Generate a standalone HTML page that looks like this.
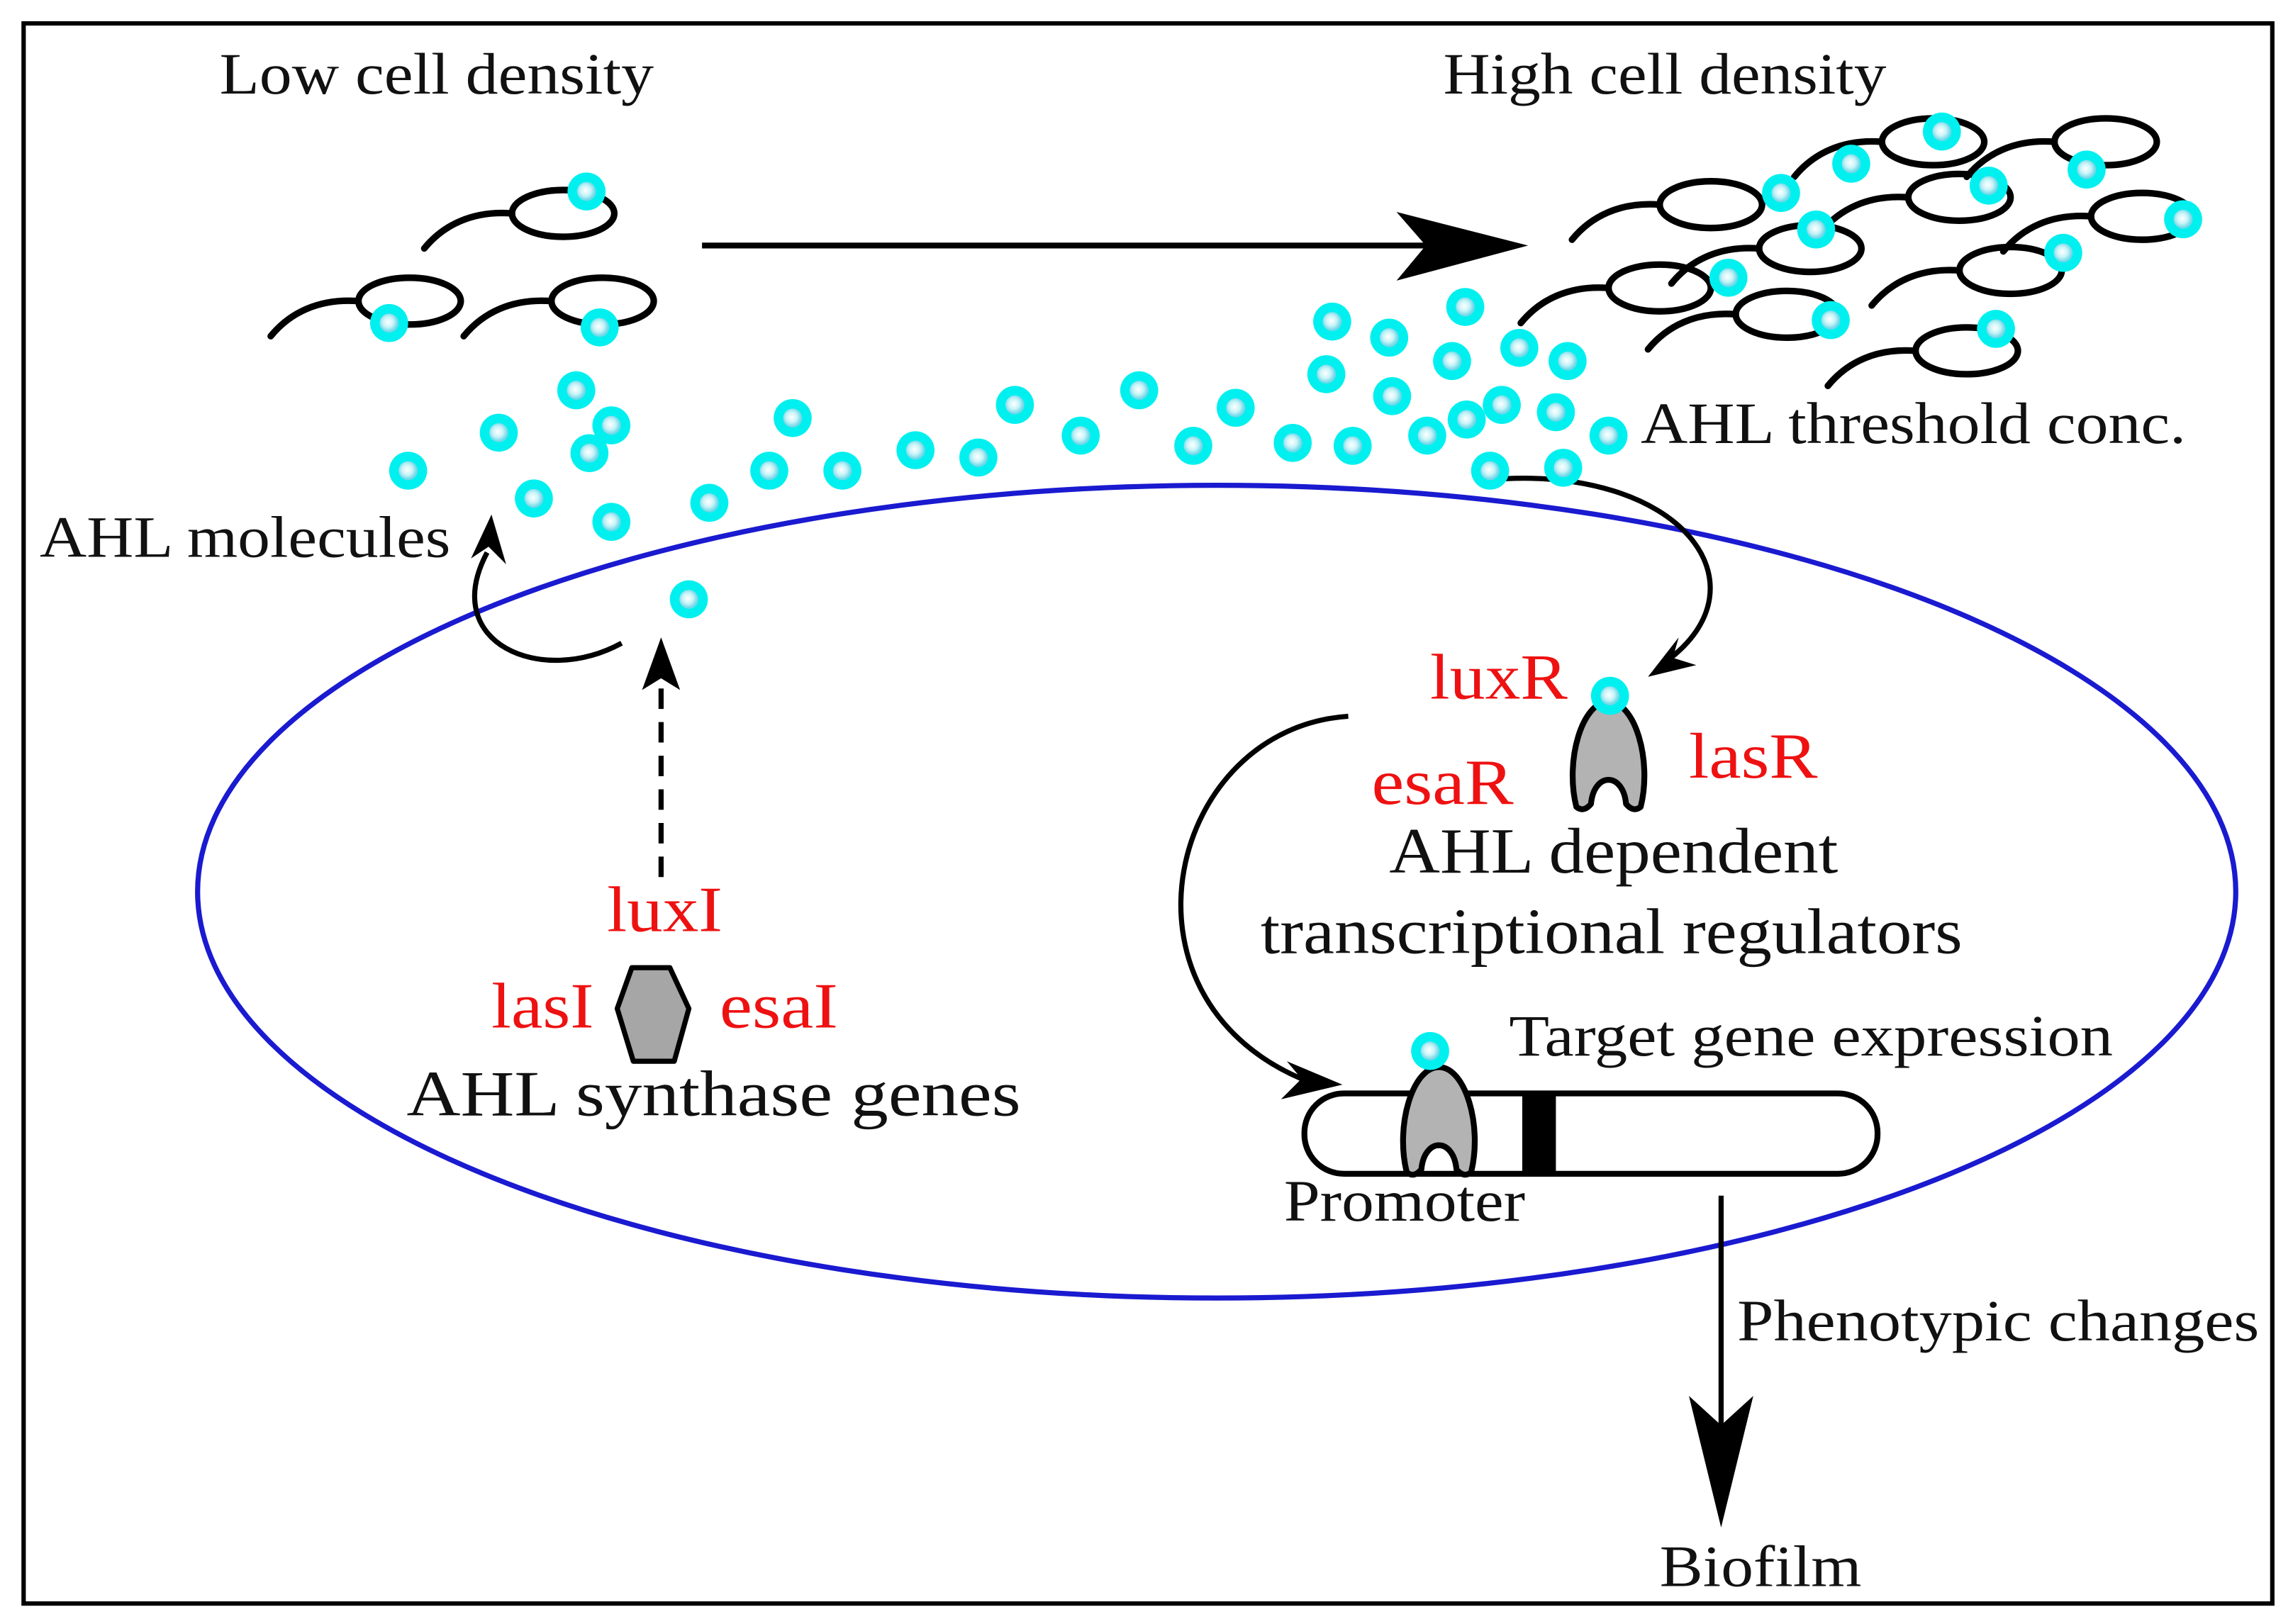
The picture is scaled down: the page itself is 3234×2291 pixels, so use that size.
<!DOCTYPE html>
<html><head><meta charset="utf-8"><style>
html,body{margin:0;padding:0;background:#fff;}
svg{display:block;}
text{font-family:"Liberation Serif",serif;}
</style></head><body>
<svg width="3234" height="2291" viewBox="0 0 1568 1111" xmlns="http://www.w3.org/2000/svg">
<defs>
<radialGradient id="g" cx="0.45" cy="0.45" r="0.5">
<stop offset="0" stop-color="#ffffff"/><stop offset="0.55" stop-color="#c8f4f8"/><stop offset="1" stop-color="#6fd8e8"/>
</radialGradient>
<g id="d"><circle r="13" fill="#00f0f0"/><circle r="6.5" fill="url(#g)"/></g>
<g id="b"><ellipse cx="0" cy="0" rx="35" ry="16" fill="none" stroke="#000" stroke-width="4.5"/><path d="M-35,0 C-62,-2 -82,8 -95,24" fill="none" stroke="#000" stroke-width="4.5" stroke-linecap="round"/></g>
<g id="r"><path d="M-22,32 C-30,0 -18,-40 0,-40 C18,-40 30,0 22,32 Q17,36 12,30 C10,8 -10,8 -12,30 Q-17,36 -22,32 Z" fill="#b3b3b3" stroke="#000" stroke-width="4" stroke-linejoin="round"/></g>
</defs>
<rect x="0" y="0" width="1568" height="1111" fill="#fff"/>
<rect x="16" y="16" width="1538" height="1081" fill="none" stroke="#000" stroke-width="3"/>
<ellipse cx="832" cy="610" rx="697" ry="278" fill="none" stroke="#1a1ad0" stroke-width="3.5"/>

<use href="#b" x="385" y="146"/>
<use href="#b" x="280" y="206"/>
<use href="#b" x="412" y="206"/>
<use href="#b" x="1322" y="97"/>
<use href="#b" x="1440" y="97"/>
<use href="#b" x="1170" y="140"/>
<use href="#b" x="1340" y="135"/>
<use href="#b" x="1465" y="148"/>
<use href="#b" x="1238" y="170"/>
<use href="#b" x="1375" y="185"/>
<use href="#b" x="1135" y="197"/>
<use href="#b" x="1222" y="215"/>
<use href="#b" x="1345" y="240"/>

<line x1="480" y1="168" x2="975" y2="168" stroke="#000" stroke-width="4"/>
<polygon points="1045,168 955,145 975,168 955,192" fill="#000"/>

<path d="M1020,328 C1150,318 1210,400 1140,452" fill="none" stroke="#000" stroke-width="3.5"/>
<polygon points="1127,463 1148,436 1144,450 1160,455" fill="#000"/>
<path d="M425,440 C370,470 300,440 333,378" fill="none" stroke="#000" stroke-width="3.5"/>
<polygon points="336,352 322,382 334,374 346,386" fill="#000"/>
<line x1="452" y1="600" x2="452" y2="468" stroke="#000" stroke-width="3.5" stroke-dasharray="14,9"/>
<polygon points="452,436 439,472 452,464 465,472" fill="#000"/>
<path d="M922,490 C800,498 755,680 890,738" fill="none" stroke="#000" stroke-width="3.5"/>
<polygon points="918,742 880,726 890,738 876,752" fill="#000"/>
<line x1="1177" y1="818" x2="1177" y2="980" stroke="#000" stroke-width="3.5"/>
<polygon points="1177,1045 1155,955 1177,975 1199,955" fill="#000"/>

<rect x="892" y="748" width="392" height="55" rx="27" fill="#fff" stroke="#000" stroke-width="4"/>
<rect x="1041" y="748" width="23" height="55" fill="#000"/>
<use href="#r" x="984" y="770"/>
<use href="#r" x="1100" y="520"/>
<polygon points="432,662 458,662 471,690 461,726 433,726 422,690" fill="#a6a6a6" stroke="#000" stroke-width="3.5" stroke-linejoin="round"/>

<g>
<use href="#d" x="401" y="131"/><use href="#d" x="266" y="221"/><use href="#d" x="410" y="224"/>
<use href="#d" x="394" y="267"/><use href="#d" x="341" y="296"/><use href="#d" x="418" y="291"/><use href="#d" x="403" y="310"/><use href="#d" x="279" y="322"/><use href="#d" x="365" y="341"/><use href="#d" x="418" y="357"/><use href="#d" x="471" y="410"/><use href="#d" x="485" y="344"/><use href="#d" x="526" y="322"/><use href="#d" x="542" y="286"/><use href="#d" x="576" y="322"/><use href="#d" x="626" y="308"/><use href="#d" x="669" y="313"/><use href="#d" x="694" y="277"/><use href="#d" x="739" y="298"/><use href="#d" x="779" y="267"/><use href="#d" x="816" y="305"/><use href="#d" x="845" y="279"/><use href="#d" x="884" y="303"/><use href="#d" x="925" y="305"/><use href="#d" x="911" y="220"/><use href="#d" x="950" y="231"/><use href="#d" x="1002" y="210"/><use href="#d" x="907" y="256"/><use href="#d" x="952" y="271"/><use href="#d" x="993" y="247"/><use href="#d" x="1039" y="238"/><use href="#d" x="1072" y="247"/><use href="#d" x="976" y="298"/><use href="#d" x="1003" y="287"/><use href="#d" x="1027" y="277"/><use href="#d" x="1064" y="282"/><use href="#d" x="1100" y="298"/><use href="#d" x="1019" y="322"/><use href="#d" x="1069" y="320"/>
<use href="#d" x="1328" y="90"/><use href="#d" x="1266" y="112"/><use href="#d" x="1218" y="132"/><use href="#d" x="1360" y="127"/><use href="#d" x="1427" y="116"/><use href="#d" x="1493" y="150"/><use href="#d" x="1242" y="157"/><use href="#d" x="1411" y="173"/><use href="#d" x="1182" y="190"/><use href="#d" x="1252" y="219"/><use href="#d" x="1365" y="225"/>
<use href="#d" x="1101" y="476"/><use href="#d" x="978" y="719"/>
</g>

<g font-size="40" fill="#111" lengthAdjust="spacingAndGlyphs">
<text x="150" y="64" textLength="297" lengthAdjust="spacingAndGlyphs">Low cell density</text>
<text x="987" y="64" textLength="303" lengthAdjust="spacingAndGlyphs">High cell density</text>
<text x="1122" y="303" textLength="373" lengthAdjust="spacingAndGlyphs">AHL threshold conc.</text>
<text x="27" y="381" textLength="281" lengthAdjust="spacingAndGlyphs">AHL molecules</text>
<text x="1032" y="722" textLength="413" lengthAdjust="spacingAndGlyphs">Target gene expression</text>
<text x="878" y="835" textLength="165" lengthAdjust="spacingAndGlyphs">Promoter</text>
<text x="1188" y="917" textLength="357" lengthAdjust="spacingAndGlyphs">Phenotypic changes</text>
<text x="1135" y="1085" textLength="138" lengthAdjust="spacingAndGlyphs">Biofilm</text>
</g>
<g font-size="44" fill="#111">
<text x="950" y="597" textLength="307" lengthAdjust="spacingAndGlyphs">AHL dependent</text>
<text x="862" y="652" textLength="480" lengthAdjust="spacingAndGlyphs">transcriptional regulators</text>
<text x="278" y="763" textLength="420" lengthAdjust="spacingAndGlyphs">AHL synthase genes</text>
</g>
<g font-size="44" fill="#ee1111">
<text x="978" y="478" textLength="94" lengthAdjust="spacingAndGlyphs">luxR</text>
<text x="1155" y="532" textLength="88" lengthAdjust="spacingAndGlyphs">lasR</text>
<text x="938" y="550" textLength="97" lengthAdjust="spacingAndGlyphs">esaR</text>
<text x="415" y="637" textLength="79" lengthAdjust="spacingAndGlyphs">luxI</text>
<text x="336" y="703" textLength="70" lengthAdjust="spacingAndGlyphs">lasI</text>
<text x="492" y="703" textLength="81" lengthAdjust="spacingAndGlyphs">esaI</text>
</g>
</svg>
</body></html>
